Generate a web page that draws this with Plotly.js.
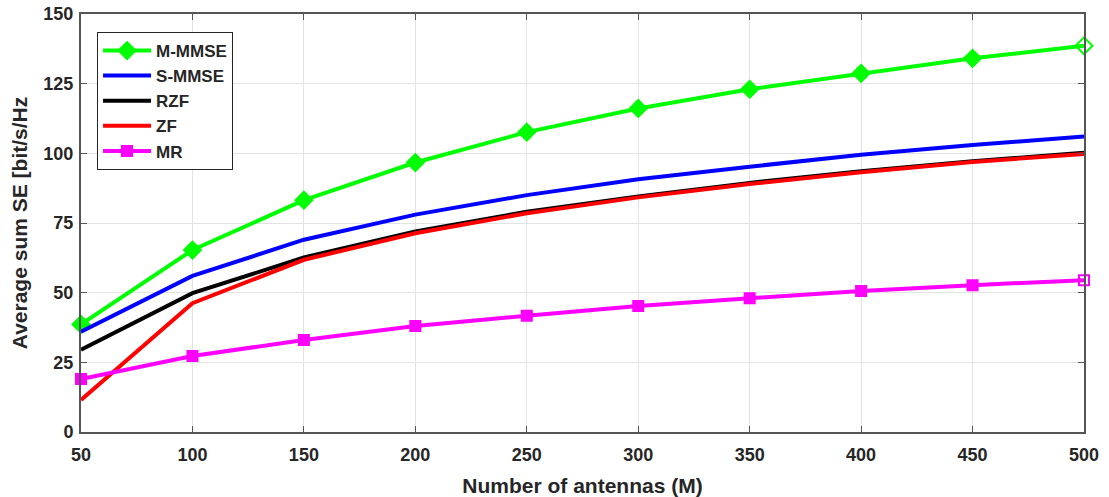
<!DOCTYPE html>
<html>
<head>
<meta charset="utf-8">
<script src="https://cdn.plot.ly/plotly-3.0.1.min.js"></script>
<style>html,body{margin:0;padding:0;background:#fff;}#chart{width:1109px;height:497px;}</style>
</head>
<body>
<div id="chart"></div>
<script>
const antennas = [50, 100, 150, 200, 250, 300, 350, 400, 450, 500];
const mmmse = [38.6, 65.3, 83.2, 96.7, 107.6, 116.1, 123.0, 128.7, 134.1, 138.6];
const smmse = [36.0, 56.0, 69.0, 78.0, 85.0, 90.7, 95.2, 99.5, 103.0, 106.0];
const rzf   = [29.5, 49.8, 62.6, 72.0, 79.0, 84.5, 89.4, 93.6, 97.2, 100.2];
const zf    = [11.5, 46.2, 61.8, 71.3, 78.5, 84.2, 89.0, 93.2, 96.9, 99.8];
const mr    = [19.0, 27.3, 33.0, 38.0, 41.7, 45.2, 48.0, 50.6, 52.7, 54.5];
const seriesNames = ['M-MMSE', 'S-MMSE', 'RZF', 'ZF', 'MR'];
const xTicks = [50, 100, 150, 200, 250, 300, 350, 400, 450, 500];
const yTicks = [0, 25, 50, 75, 100, 125, 150];

const FONT = 'Liberation Sans, Arial, sans-serif';
const TXT = '#262626';

function symArr(base, n) {
  const a = [];
  for (let i = 0; i < n; i++) a.push(i === n - 1 ? base + '-open' : base);
  return a;
}

const traces = [
  {x: antennas, y: mmmse, name: seriesNames[0], mode: 'lines+markers', cliponaxis: false,
   line: {color: '#00ff00', width: 4},
   marker: {symbol: symArr('diamond', antennas.length), size: 13, color: '#00ff00', line: {color: '#00ff00', width: 2}}},
  {x: antennas, y: smmse, name: seriesNames[1], mode: 'lines', cliponaxis: false,
   line: {color: '#0000ff', width: 4}},
  {x: antennas, y: rzf, name: seriesNames[2], mode: 'lines', cliponaxis: false,
   line: {color: '#000000', width: 4}},
  {x: antennas, y: zf, name: seriesNames[3], mode: 'lines', cliponaxis: false,
   line: {color: '#ff0000', width: 4}},
  {x: antennas, y: mr, name: seriesNames[4], mode: 'lines+markers', cliponaxis: false,
   line: {color: '#ff00ff', width: 4},
   marker: {symbol: symArr('square', antennas.length), size: 10, color: '#ff00ff', line: {color: '#ff00ff', width: 2}}}
];

const layout = {
  width: 1109, height: 497,
  margin: {l: 81, r: 25, t: 14, b: 65},
  paper_bgcolor: '#ffffff', plot_bgcolor: '#ffffff',
  font: {family: FONT, color: TXT},
  showlegend: true,
  legend: {
    x: 0.016, y: 0.957, xanchor: 'left', yanchor: 'top',
    bgcolor: '#ffffff', bordercolor: '#262626', borderwidth: 1,
    font: {family: FONT, size: 17, color: TXT, weight: 'bold'},
    itemwidth: 48, tracegroupgap: 5, traceorder: 'normal'
  },
  xaxis: {
    range: [50, 500], tickvals: xTicks, ticktext: xTicks.map(String),
    showgrid: true, gridcolor: '#e3e3e3', gridwidth: 1,
    showline: true, linecolor: '#555555', linewidth: 2, mirror: 'ticks',
    ticks: 'inside', ticklen: 6, tickcolor: '#555555', tickwidth: 1,
    zeroline: false, ticklabelstandoff: 5,
    tickfont: {family: FONT, size: 18, color: TXT, weight: 'bold'},
    title: {text: 'Number of antennas (M)', font: {family: FONT, size: 21, color: TXT, weight: 'bold'}, standoff: 16}
  },
  yaxis: {
    range: [0, 150], tickvals: yTicks, ticktext: yTicks.map(String),
    showgrid: true, gridcolor: '#e3e3e3', gridwidth: 1,
    showline: true, linecolor: '#555555', linewidth: 2, mirror: 'ticks',
    ticks: 'inside', ticklen: 6, tickcolor: '#555555', tickwidth: 1,
    zeroline: false, ticklabelstandoff: 2,
    tickfont: {family: FONT, size: 18, color: TXT, weight: 'bold'},
    title: {text: 'Average sum SE [bit/s/Hz', font: {family: FONT, size: 21, color: TXT, weight: 'bold'}, standoff: 10}
  }
};

Plotly.newPlot('chart', traces, layout, {staticPlot: true, displayModeBar: false});
</script>
</body>
</html>
